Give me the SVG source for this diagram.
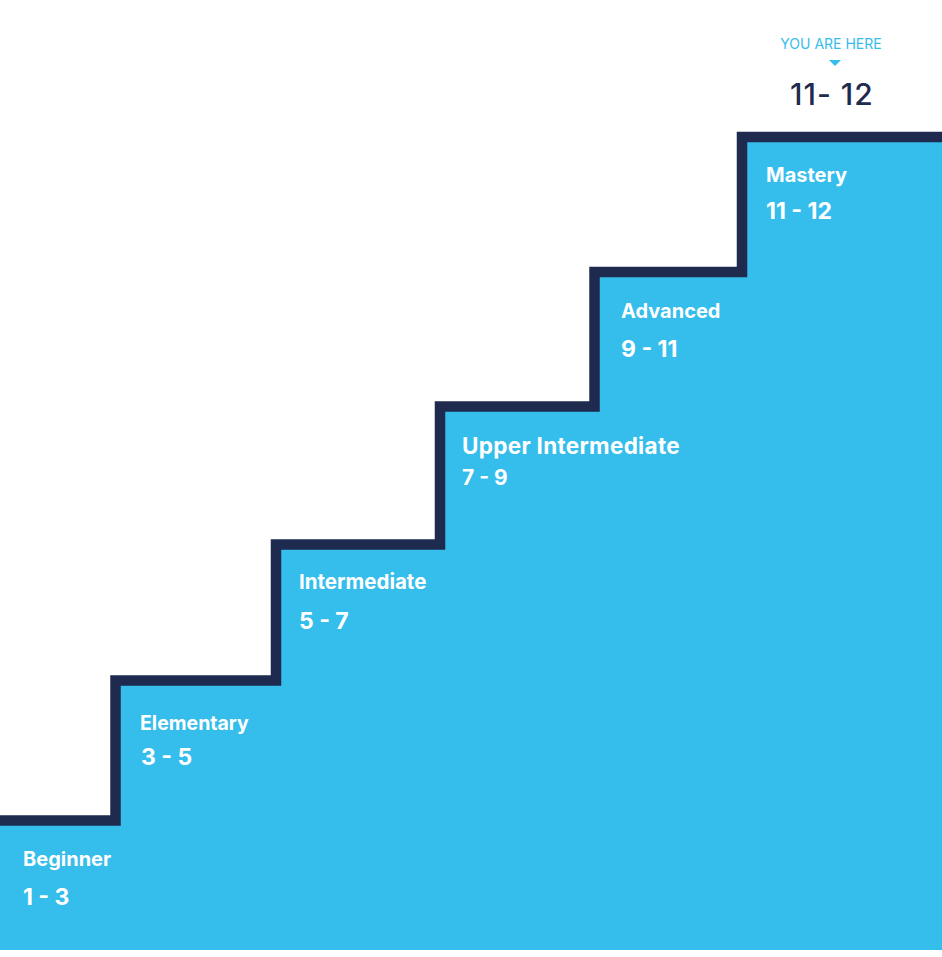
<svg xmlns="http://www.w3.org/2000/svg" width="942" height="957" viewBox="0 0 942 957">
<style>
.lbl{font-family:Inter,"Liberation Sans",sans-serif;font-weight:700;fill:#ffffff;font-size:20px}
.num{font-family:Inter,"Liberation Sans",sans-serif;font-weight:700;fill:#ffffff;font-size:23px}
.here{font-family:Inter,"Liberation Sans",sans-serif;font-weight:400;fill:#35bdec;font-size:14px}
.cur{font-family:Inter,"Liberation Sans",sans-serif;font-weight:500;fill:#1f2a4f;font-size:30px;letter-spacing:1px}
</style>
<rect width="942" height="957" fill="#ffffff"/>
<g id="stairs">
<path d="M0,820.5 H115.5 V680.5 H276 V544.5 H440 V406.5 H594.5 V272 H742 V137 H942 V950 H0 Z" fill="#35bdec"/>
</g>
<g id="connectors">
<path d="M0,820.5 H115.5 V680.5 H276 V544.5 H440 V406.5 H594.5 V272 H742 V137 H942" fill="none" stroke="#1f2a4f" stroke-width="10.5"/>
</g>
<g id="beginner"><text class="lbl" x="23" y="866">Beginner</text><text class="num" x="23" y="905">1 - 3</text></g>
<g id="elementary"><text class="lbl" x="140" y="730" style="font-size:19.5px">Elementary</text><text class="num" x="141" y="765">3 - 5</text></g>
<g id="intermediate"><text class="lbl" x="299" y="589" style="font-size:20.5px">Intermediate</text><text class="num" x="299" y="629">5 - 7</text></g>
<g id="upper-intermediate"><text class="lbl" x="462" y="454" style="font-size:22.5px;letter-spacing:0.3px">Upper Intermediate</text><text class="num" x="462" y="485" style="font-size:21px">7 - 9</text></g>
<g id="advanced"><text class="lbl" x="621" y="318">Advanced</text><text class="num" x="621" y="357">9 - 11</text></g>
<g id="mastery"><text class="lbl" x="766" y="182">Mastery</text><text class="num" x="766" y="219">11 - 12</text></g>
<g id="you-are-here">
<text class="here" x="831" y="49" text-anchor="middle">YOU ARE HERE</text>
<polygon points="829,60 841,60 835,66" fill="#35bdec"/>
<text class="cur" x="790" y="105">11- 12</text>
</g>
</svg>
